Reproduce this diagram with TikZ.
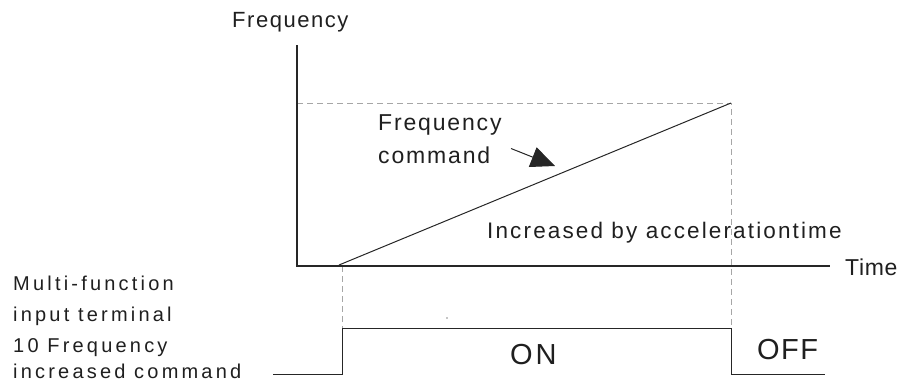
\documentclass[tikz,border=0pt]{standalone}
\usepackage{fontspec}
\setmainfont{Liberation Sans}
\usetikzlibrary{arrows.meta}
\newcommand{\lblfont}[2]{\fontsize{#1}{#1}\selectfont\addfontfeature{LetterSpace=#2}}
\begin{document}
\begin{tikzpicture}[x=1pt,y=-1pt,
  lbl/.style={inner sep=0pt,anchor=base west,text=black!88},
  axis/.style={line width=2.6pt,black!85},
  thin/.style={line width=1pt,black!85},
  guide/.style={line width=0.9pt,black!35,dash pattern=on 6pt off 4pt}]
\useasboundingbox (0,0) rectangle (909,389);
% guides
\coordinate (gtop) at (297,103);
\coordinate (rtop) at (731,103);
\coordinate (rbot) at (731,328);
\coordinate (l0) at (342,266);
\coordinate (l1) at (342,328);
\draw[guide] (gtop) -- (rtop) -- (rbot);
\draw[guide] (l0) -- (l1);
% axes
\coordinate (ytop) at (297,45);
\coordinate (org) at (297,266);
\coordinate (xend) at (830,266);
\draw[axis] (ytop) -- (org) -- (xend);
% ramp
\coordinate (r0) at (339,265);
\draw[thin] (r0) -- (rtop);
% signal
\coordinate (s0) at (273,374);
\coordinate (s1) at (342,374);
\coordinate (s4) at (731,374);
\coordinate (s5) at (825,374);
\draw[thin] (s0) -- (s1) -- (l1) -- (rbot) -- (s4) -- (s5);
% labels
\node[lbl,font=\lblfont{22}{7}] (fq) at (232,27.3) {Frequency};
\node[lbl,font=\lblfont{23}{3}] (tm) at (845,275) {Time};
\node[lbl,font=\lblfont{23}{8}] (fc1) at (378,130) {Frequency};
\node[lbl,font=\lblfont{23}{8}] (fc2) at (378,163) {command};
\node[lbl,font=\lblfont{22.5}{9.5}] (inc) at (487,238) {Increased by accelerationtime};
\node[lbl,font=\lblfont{20}{16}] (m1) at (13,290.5) {Multi-function};
\node[lbl,font=\lblfont{20}{16}] (m2) at (13,321.5) {input terminal};
\node[lbl,font=\lblfont{20}{16}] (m3) at (13,352) {10 Frequency};
\node[lbl,font=\lblfont{20}{16}] (m4) at (13,378) {increased command};
\node[lbl,font=\lblfont{29}{10}] (on) at (510,364) {ON};
\node[lbl,font=\lblfont{29}{5}] (off) at (757,359) {OFF};
% arrow
\coordinate (a0) at (511,148.5);
\coordinate (a1) at (555,166);
\draw[thin,-{Triangle[length=24pt,width=21pt]}] (a0) -- (a1);
\fill[black!45] (447,318) circle (0.8pt);
\end{tikzpicture}
\end{document}
